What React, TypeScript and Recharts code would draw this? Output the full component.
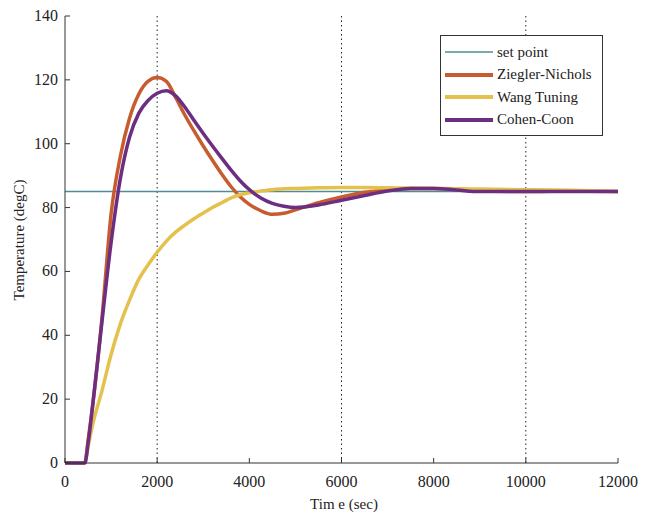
import { LineChart, Line, XAxis, YAxis, ReferenceLine, Legend, Label } from 'recharts'

// time axis (sec) shared by every curve
const TIME = [0, 430, 500, 600, 800, 1000, 1200, 1400, 1600, 1800, 2000, 2200, 2400, 2600, 2800, 3000, 3200, 3400, 3600, 3800, 4000, 4250, 4500, 4750, 5000, 5500, 6000, 6500, 7000, 7500, 8000, 8500, 9000, 10000, 11000, 12000]
const SET_POINT = 85
const ZIEGLER = [0, 0, 7, 18, 45, 78, 96, 108, 115.5, 119.5, 120.7, 119.5, 114.5, 109, 104, 99.3, 94.8, 90.5, 86.6, 83.4, 81, 79, 77.9, 78.2, 79.3, 81.5, 83.3, 84.8, 85.5, 86, 86, 85.8, 85.3, 85, 85.2, 85]
const WANG = [0, 0, 5, 12, 22.5, 34, 43.5, 51, 57.5, 62, 66, 69.5, 72.3, 74.5, 76.5, 78.3, 80, 81.5, 83, 84, 84.6, 85.2, 85.6, 85.9, 86, 86.2, 86.3, 86.3, 86.2, 86.1, 86, 85.9, 85.8, 85.6, 85.4, 85]
const COHEN = [0, 0, 6, 18, 44, 69, 89, 102, 109.5, 113.5, 115.8, 116.6, 115, 111.5, 107.3, 103.2, 99.3, 95.5, 91.8, 88.4, 85.6, 83, 81.3, 80.4, 80, 80.8, 82.3, 83.8, 85.2, 86, 86, 85.5, 85, 85, 85, 85]

const X_TICKS = [0, 2000, 4000, 6000, 8000, 10000, 12000]
const Y_TICKS = [0, 20, 40, 60, 80, 100, 120, 140]
const DOTTED_AT = [2000, 6000, 10000]
const LEGEND_ORDER = ['sp', 'zn', 'wang', 'cc']

const data = TIME.map((t, i) => ({
  t,
  sp: SET_POINT,
  zn: ZIEGLER[i],
  wang: WANG[i],
  cc: COHEN[i],
}))

const FONT = '"Liberation Serif", "Times New Roman", serif'
const AXIS = '#333'
const TXT = '#222'

const BottomTick = ({ x, y, payload }: any) => (
  <g>
    <line x1={x} y1={y} x2={x} y2={y - 5} stroke={AXIS} />
    <text x={x} y={y + 24} textAnchor="middle" fontSize={16} fontFamily={FONT} fill={TXT}>{payload.value}</text>
  </g>
)
const LeftTick = ({ x, y, payload }: any) => (
  <g>
    <line x1={x} y1={y} x2={x + 5} y2={y} stroke={AXIS} />
    <text x={x - 7} y={y + 5} textAnchor="end" fontSize={16} fontFamily={FONT} fill={TXT}>{payload.value}</text>
  </g>
)
const TopTick = ({ x, y }: any) => <line x1={x} y1={y} x2={x} y2={y + 5} stroke={AXIS} />
const RightTick = ({ x, y }: any) => <line x1={x} y1={y} x2={x - 5} y2={y} stroke={AXIS} />

const renderLegend = ({ payload }: any) => {
  const items = [...(payload || [])].sort(
    (a: any, b: any) => LEGEND_ORDER.indexOf(a.dataKey) - LEGEND_ORDER.indexOf(b.dataKey)
  )
  return (
    <div style={{ border: '1px solid #333', background: '#fff', width: 163, height: 101, boxSizing: 'border-box', padding: '5px 0 0 3px', fontFamily: FONT, fontSize: 15, color: TXT }}>
      {items.map((entry: any) => (
        <div key={entry.value} style={{ display: 'flex', alignItems: 'center', height: 22.5 }}>
          <svg width={50} height={6}>
            <line x1={1} x2={49} y1={3} y2={3} stroke={entry.color} strokeWidth={entry.dataKey === 'sp' ? 1.5 : 4} />
          </svg>
          <span style={{ marginLeft: 3, whiteSpace: 'nowrap' }}>{entry.value}</span>
        </div>
      ))}
    </div>
  )
}

export default function App() {
  return (
    <div style={{ position: 'absolute', left: 0, top: 0, background: '#fff' }}>
      <LineChart width={650} height={519} data={data} margin={{ top: 16, right: 32, bottom: 0, left: 0 }}>
        <XAxis dataKey="t" type="number" domain={[0, 12000]} ticks={X_TICKS} height={56} tickSize={0} tickMargin={0}
          tickLine={false} axisLine={{ stroke: AXIS }} tick={BottomTick} interval={0}>
          <Label content={() => (
            <text x={344} y={509} textAnchor="middle" fontSize={15} fontFamily={FONT} fill={TXT}>Tim e (sec)</text>
          )} />
        </XAxis>
        <XAxis xAxisId="top" orientation="top" dataKey="t" type="number" domain={[0, 12000]} ticks={X_TICKS} height={0}
          tickSize={0} tickMargin={0} tickLine={false} axisLine={{ stroke: AXIS }} tick={TopTick} interval={0} />
        <YAxis type="number" domain={[0, 140]} ticks={Y_TICKS} width={65} tickSize={0} tickMargin={0}
          tickLine={false} axisLine={{ stroke: AXIS }} tick={LeftTick} interval={0}>
          <Label content={() => (
            <text x={0} y={0} transform="translate(24 240) rotate(-90)" textAnchor="middle" fontSize={15} fontFamily={FONT} fill={TXT}>Temperature (degC)</text>
          )} />
        </YAxis>
        <YAxis yAxisId="right" orientation="right" type="number" domain={[0, 140]} ticks={Y_TICKS} width={0}
          tickSize={0} tickMargin={0} tickLine={false} axisLine={{ stroke: AXIS }} tick={RightTick} interval={0} />
        {DOTTED_AT.map((v) => (
          <ReferenceLine key={v} x={v} stroke="#222" strokeDasharray="1.5 3" />
        ))}
        <Line dataKey="sp" name="set point" stroke="#4f8c97" strokeWidth={1.5} dot={false} isAnimationActive={false} />
        <Line dataKey="zn" name="Ziegler-Nichols" type="monotone" stroke="#c75d2f" strokeWidth={3.5} dot={false} isAnimationActive={false} />
        <Line dataKey="wang" name="Wang Tuning" type="monotone" stroke="#e4c14c" strokeWidth={3.5} dot={false} isAnimationActive={false} />
        <Line dataKey="cc" name="Cohen-Coon" type="monotone" stroke="#6d2e82" strokeWidth={3.5} dot={false} isAnimationActive={false} />
        <Legend content={renderLegend} layout="horizontal" verticalAlign="middle" align="center"
          wrapperStyle={{ left: 440, top: 35, width: 163, height: 101 }} />
      </LineChart>
    </div>
  )
}
